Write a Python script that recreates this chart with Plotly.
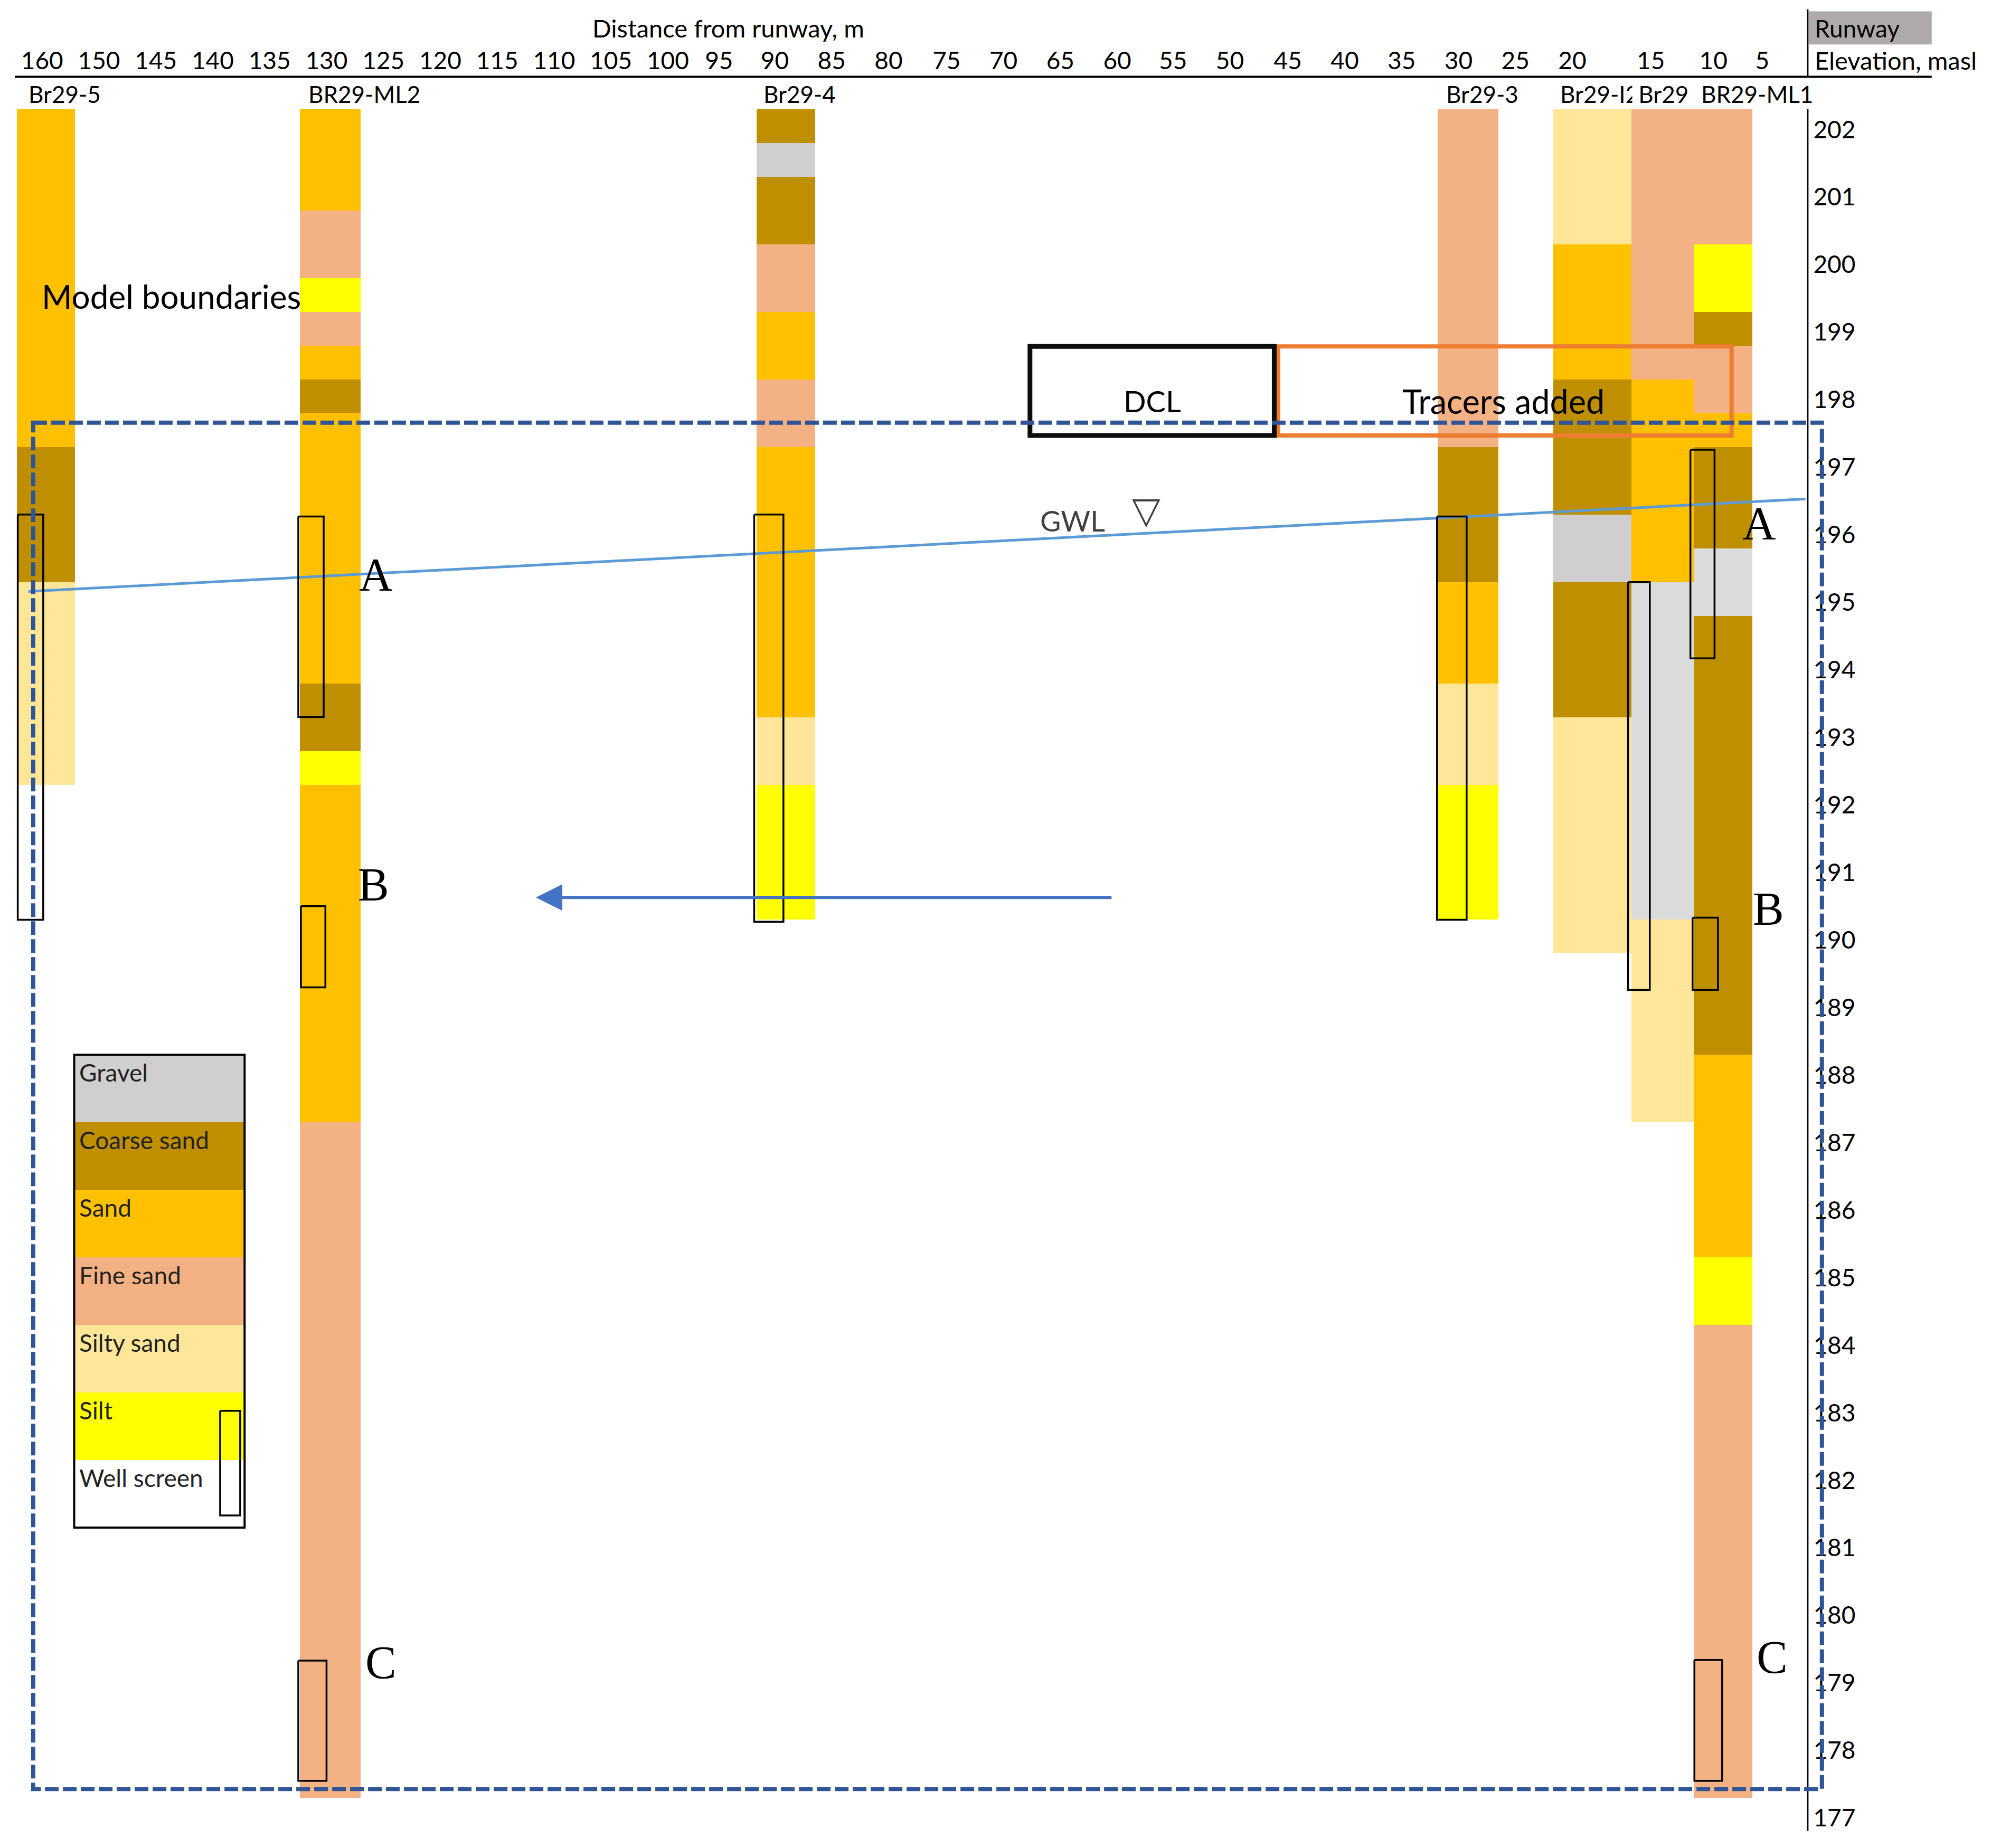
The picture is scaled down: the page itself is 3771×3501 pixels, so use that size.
import plotly.graph_objects as go

# Lithology colours
COLORS = {
    "gravel": "#D0CECE",
    "gravel_light": "#DBDBDB",
    "coarse": "#BF8F00",
    "sand": "#FFC000",
    "fine": "#F4B183",
    "silty": "#FFE699",
    "silt": "#FFFF00",
    "screen": "#FFFFFF",
}

# Distance axis labels (the sheet columns are not quite even, 155 is missing)
tick_labels = ["160", "150", "145", "140", "135", "130", "125", "120", "115", "110", "105",
               "100", "95", "90", "85", "80", "75", "70", "65", "60", "55", "50", "45", "40",
               "35", "30", "25", "20", "15", "10", "5"]
tick_pos = [155, 150, 145, 140, 135, 130, 125, 120, 115, 110, 105,
            100, 95.5, 90.6, 85.6, 80.6, 75.5, 70.5, 65.5, 60.5, 55.6, 50.6, 45.5, 40.5,
            35.5, 30.5, 25.5, 20.5, 13.6, 8.1, 3.8]
elevations = list(range(177, 203))

# Boreholes: column edges (m), layer boundaries (masl), layer lithology
br29_5_x = [157.2, 152.1]
br29_5_z = [202.3, 197.3, 195.3, 192.3]
br29_5_lith = ["sand", "coarse", "silty"]

ml2_x = [132.34, 127.0]
ml2_z = [202.3, 200.8, 199.8, 199.3, 198.8, 198.3, 197.8, 193.8, 192.8, 192.3, 187.3, 177.3]
ml2_lith = ["sand", "fine", "silt", "fine", "sand", "coarse", "sand", "coarse", "silt", "sand", "fine"]

br29_4_x = [92.2, 87.05]
br29_4_z = [202.3, 201.8, 201.3, 200.3, 199.3, 198.3, 197.3, 193.3, 192.3, 190.3]
br29_4_lith = ["coarse", "gravel", "coarse", "fine", "sand", "fine", "sand", "silty", "silt"]

br29_3_x = [32.34, 27.0]
br29_3_z = [202.3, 197.3, 195.3, 193.8, 192.3, 190.3]
br29_3_lith = ["fine", "coarse", "sand", "silty", "silt"]

br29_i2_x = [22.18, 15.3]
br29_i2_z = [202.3, 200.3, 198.3, 196.3, 195.3, 193.3, 189.8]
br29_i2_lith = ["silty", "sand", "coarse", "gravel", "coarse", "silty"]

br29_x = [15.3, 9.84]
br29_z = [202.3, 198.3, 195.3, 190.3, 187.3]
br29_lith = ["fine", "sand", "gravel_light", "silty"]

ml1_x = [9.84, 4.68]
ml1_z = [202.3, 200.3, 199.3, 198.8, 197.8, 197.3, 195.8, 194.8, 188.3, 185.3, 184.3, 177.3]
ml1_lith = ["fine", "silt", "coarse", "fine", "sand", "coarse", "gravel_light", "coarse", "sand", "silt", "fine"]

# Legend rows
legend_names = ["Gravel", "Coarse sand", "Sand", "Fine sand", "Silty sand", "Silt", "Well screen"]
legend_lith = ["gravel", "coarse", "sand", "fine", "silty", "silt", "screen"]
legend_x = [152.18, 137.2]
legend_z = [188.3, 187.3, 186.3, 185.3, 184.3, 183.3, 182.3, 181.3]

# Well screens: x left, x right, z top, z bottom
screens = [
    (157.14, 154.9, 196.3, 190.3),
    (132.48, 130.25, 196.27, 193.3),
    (132.25, 130.1, 190.5, 189.3),
    (132.48, 130.0, 179.33, 177.55),
    (92.41, 89.84, 196.3, 190.27),
    (32.39, 29.79, 196.27, 190.3),
    (15.6, 13.69, 195.3, 189.26),
    (10.12, 8.0, 197.26, 194.17),
    (9.93, 7.7, 190.33, 189.26),
    (9.77, 7.33, 179.34, 177.55),
    (139.35, 137.59, 183.03, 181.48),
]

# Groundwater level
gwl_x = [156.2, 0]
gwl_z = [195.16, 196.53]

FONT = "Lato"
fig = go.Figure()


def add_column(edges, bounds, lith):
    n = len(lith)
    fig.add_trace(go.Bar(
        x=[(edges[0] + edges[1]) / 2] * n,
        y=[bounds[i] - bounds[i + 1] for i in range(n)],
        base=bounds[1:],
        width=edges[0] - edges[1],
        marker=dict(color=[COLORS[k] for k in lith], line_width=0),
        showlegend=False,
    ))


add_column(br29_5_x, br29_5_z, br29_5_lith)
add_column(ml2_x, ml2_z, ml2_lith)
add_column(br29_4_x, br29_4_z, br29_4_lith)
add_column(br29_3_x, br29_3_z, br29_3_lith)
add_column(br29_i2_x, br29_i2_z, br29_i2_lith)
add_column(br29_x, br29_z, br29_lith)
add_column(ml1_x, ml1_z, ml1_lith)
add_column(legend_x, legend_z, legend_lith)

# Water table
fig.add_trace(go.Scatter(x=gwl_x, y=gwl_z, mode="lines",
                         line=dict(color="#5B9BD5", width=5), showlegend=False))

# Well screens
sx, sz = [], []
for x0, x1, z0, z1 in screens:
    sx += [x0, x1, x1, x0, x0, None]
    sz += [z0, z0, z1, z1, z0, None]
fig.add_trace(go.Scatter(x=sx, y=sz, mode="lines",
                         line=dict(color="black", width=3.5), showlegend=False))


def box(x0, x1, z0, z1, color, width, dash="solid"):
    fig.add_shape(type="rect", x0=x0, x1=x1, y0=z0, y1=z1, layer="above",
                  line=dict(color=color, width=width, dash=dash))


def seg(x0, x1, z0, z1, width):
    fig.add_shape(type="line", x0=x0, x1=x1, y0=z0, y1=z1, layer="above",
                  line=dict(color="black", width=width))


# Header bits
fig.add_shape(type="rect", x0=-0.28, x1=-11.09, y0=203.26, y1=203.75, layer="below",
              fillcolor="#AEAAAA", line_width=0)
seg(157.4, -11.09, 202.78, 202.78, 4)
seg(-0.19, -0.19, 203.78, 202.78, 3)
seg(-0.19, -0.19, 202.3, 176.81, 3)

# Boxes
box(152.18, 137.2, 188.3, 181.3, "black", 4)
box(46.36, 6.5, 198.79, 197.47, "#ED7D31", 8)
box(68.17, 46.7, 198.79, 197.47, "#0D0D0D", 9)
box(155.78, -1.44, 197.66, 177.43, "#2F5597", 8, dash="26px,8px")


def label(text, x, z, size=46, color="black", anchor="left", family=FONT, bg=None):
    fig.add_annotation(text=text, x=x, y=z, xref="x", yref="y", showarrow=False,
                       xanchor=anchor, yanchor="middle", bgcolor=bg, borderpad=0,
                       font=dict(family=family, size=size, color=color))


label("Distance from runway, m", 106.68, 203.5, size=47)
label("Runway", -0.74, 203.5)
label("Elevation, masl", -0.74, 203.03, size=47)

label("Br29-5", 156.24, 202.53, size=44)
label("BR29-ML2", 131.65, 202.53, size=44)
label("Br29-4", 91.65, 202.53, size=44)
label("Br29-3", 31.65, 202.53, size=44)
label("Br29-I2", 21.63, 202.53, size=44)
label("\u00a0Br29", 15.27, 202.53, size=44, bg="white")
label("BR29-ML1", 9.23, 202.53, size=44)

label("Model boundaries", 155.08, 199.53, size=62)
label("DCL", 57.4, 197.98, size=56, anchor="center")
label("Tracers added", 26.54, 197.98, size=63, anchor="center")
label("GWL", 64.41, 196.21, size=54, color="#404040", anchor="center")
label("\u25BD", 57.95, 196.36, size=70, color="#404040", anchor="center", family="DejaVu Sans")

# Zones, right and left of the section
for text, x, z in [("A", 125.66, 195.41), ("A", 4.08, 196.17),
                   ("B", 125.89, 190.82), ("B", 3.25, 190.46),
                   ("C", 125.24, 179.3), ("C", 2.92, 179.38)]:
    label(text, x, z, size=88, anchor="center", family="Liberation Serif")

for name, top in zip(legend_names, legend_z):
    label(name, 151.8, top - 0.26, color="#222222")

# Flow direction
fig.add_annotation(x=111.6, y=190.63, ax=60.93, ay=190.63, xref="x", yref="y", axref="x", ayref="y",
                   text="", showarrow=True, arrowhead=2, arrowsize=1.67, arrowwidth=6,
                   arrowcolor="#4472C4")

fig.update_layout(
    width=3771, height=3501,
    margin=dict(l=0, r=0, t=0, b=0),
    paper_bgcolor="white", plot_bgcolor="white",
    barmode="overlay", bargap=0,
    showlegend=False,
    xaxis=dict(range=[158.7, -16.3], side="top", anchor="free", position=0.9550,
               tickmode="array", tickvals=tick_pos, ticktext=tick_labels, tickangle=0,
               ticks="outside", ticklen=8, tickcolor="rgba(0,0,0,0)",
               showgrid=False, zeroline=False, showline=False,
               tickfont=dict(family=FONT, size=46, color="black")),
    yaxis=dict(range=[176.556, 203.918], side="right", anchor="free", position=0.90592,
               tickmode="array", tickvals=elevations, ticktext=[str(e) for e in elevations],
               ticks="outside", ticklen=8, tickcolor="rgba(0,0,0,0)",
               showgrid=False, zeroline=False, showline=False,
               tickfont=dict(family=FONT, size=46, color="black")),
)

fig.write_html("out.html", config={"displayModeBar": False},
               post_script="document.body.style.margin='0';")
